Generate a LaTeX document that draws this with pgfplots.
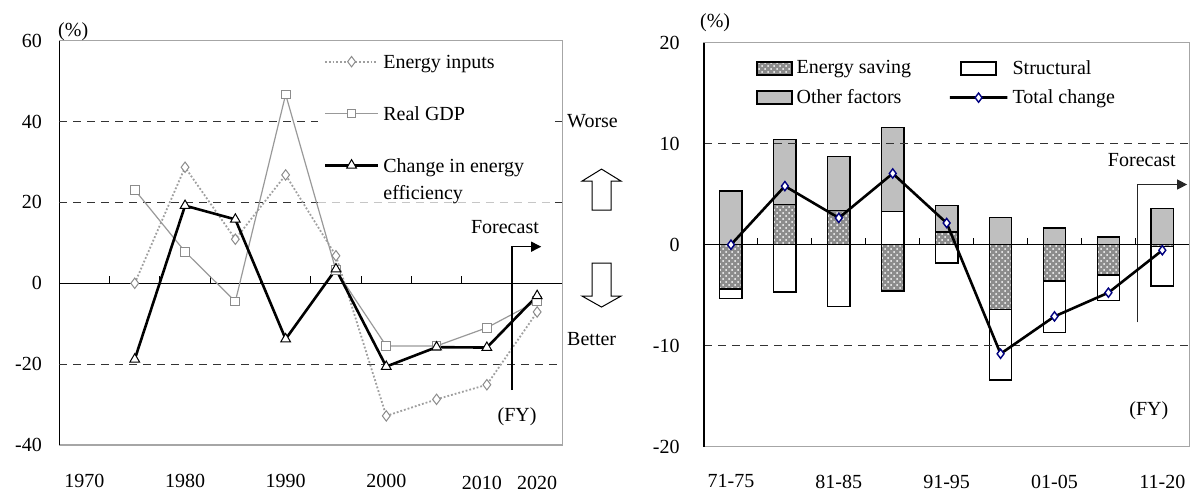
\documentclass[border=0pt]{standalone}
\usepackage{fontspec}
\setmainfont{Liberation Serif}
\usepackage{pgfplots}
\pgfplotsset{compat=1.18}
\usetikzlibrary{arrows.meta,patterns}
\definecolor{navy}{RGB}{0,0,128}
\newlength\legline
\pgfplotsset{
  myline legend/.style={legend image code/.code={\draw[mark repeat=2,mark phase=2,##1] plot coordinates {(0pt,0pt) (0.5\legline,0pt) (\legline,0pt)};}},
  swatch legend/.style={legend image code/.code={\draw[##1] (0pt,-3.25pt) rectangle (17.5pt,3.25pt);}},
}
\tikzset{
  esfill/.style={fill=gray!90, postaction={pattern=crosshatch dots, pattern color=white}, draw=black, line width=0.7pt},
  stfill/.style={fill=white, draw=black, line width=0.7pt},
  offill/.style={fill=gray!50, draw=black, line width=0.7pt},
  dgrid/.style={gray!40!black, line width=0.5pt, dash pattern=on 4pt off 3pt},
}
\begin{document}
\begin{tikzpicture}
\path[use as bounding box] (0pt,0pt) rectangle (597pt,246pt);
% ---------------- Left chart ----------------
\setlength\legline{26.5pt}
\begin{axis}[
  at={(29.65pt,23.5pt)}, anchor=south west,
  scale only axis, width=251.5pt, height=202.15pt,
  xmin=0, xmax=10, ymin=-40, ymax=60,
  xtick={0.5,2.5,4.5,6.5}, xticklabels={1970,1980,1990,2000},
  extra x ticks={8.4,9.5}, extra x tick labels={2010,2020},
  extra x tick style={xticklabel style={yshift=-1.2pt}},
  xtick style={draw=none},
  xticklabel style={yshift=-11pt},
  ytick={-40,-20,0,20,40,60},
  ytick pos=left, tick align=inside, major tick length=3.5pt,
  ytick style={black, line width=0.5pt},
  yticklabel style={xshift=-5.2pt},
  tick label style={font=\fontsize{10}{12}\selectfont},
  /pgf/number format/assume math mode=true,
  axis line style={gray!70, line width=0.6pt},
  clip=false,
  myline legend,
  legend cell align=left,
  legend style={at={(axis cs:5.25,58.35)}, anchor=north west, draw=none, fill=none,
    inner sep=0pt, row sep=12pt, font=\fontsize{10}{12}\selectfont},
]
\draw[black, line width=0.6pt] (axis cs:0,-40) -- (axis cs:0,60);
% grid lines (interrupted behind the legend area)
\draw[dgrid] (axis cs:0,40) -- (axis cs:5.14,40);
\draw[dgrid] (axis cs:9.85,40) -- (axis cs:10,40);
\draw[dgrid] (axis cs:0,20) -- (axis cs:5.14,20);
\draw[dgrid, gray!45] (axis cs:5.14,20) -- (axis cs:9.85,20);
\draw[dgrid] (axis cs:9.85,20) -- (axis cs:10,20);
\draw[dgrid] (axis cs:0,-20) -- (axis cs:10,-20);
\draw[black, line width=0.6pt] (axis cs:0,0) -- (axis cs:10,0);
\pgfplotsinvokeforeach{1,...,9}{\draw[black, line width=0.5pt] (axis cs:#1,0) -- ++(0pt,3.5pt);}
% Energy inputs
\addplot[color=gray!75, densely dotted, line width=0.9pt,
  mark=diamond*, mark size=2.6pt, mark options={solid, draw=gray!90, fill=white, line width=0.5pt}]
  coordinates {(1.5,0) (2.5,28.7) (3.5,10.9) (4.5,26.8) (5.5,6.8) (6.5,-32.8) (7.5,-28.7) (8.5,-25.1) (9.5,-7.1)};
\addlegendentry{Energy inputs\strut}
% Real GDP
\addplot[color=gray!80, line width=0.6pt,
  mark=square*, mark size=2.2pt, mark options={solid, draw=gray!90, fill=white, line width=0.5pt}]
  coordinates {(1.5,23.1) (2.5,7.8) (3.5,-4.5) (4.5,46.7) (5.5,3.2) (6.5,-15.5) (7.5,-15.5) (8.5,-11.0) (9.5,-4.4)};
\addlegendentry{Real GDP\strut}
% Change in energy efficiency
\addplot[color=black, line width=1.3pt,
  mark=triangle*, mark size=2.8pt, mark options={solid, draw=black, fill=white, line width=0.5pt}]
  coordinates {(1.5,-18.8) (2.5,19.2) (3.5,15.8) (4.5,-13.8) (5.5,3.5) (6.5,-20.6) (7.5,-15.8) (8.5,-15.9) (9.5,-3.1)};
\addlegendentry{\begin{tabular}[t]{@{}l@{}}Change in energy\\[1.5pt]efficiency\end{tabular}}
% annotations
\node[anchor=south west, font=\fontsize{10}{12}\selectfont, inner sep=0pt] at (axis cs:-0.03,60) {(\%)};
\node[font=\fontsize{10}{12}\selectfont] at (axis cs:8.86,14.0) {Forecast};
\draw[black, line width=0.6pt, -{Triangle[length=5pt,width=5pt]}] (axis cs:9,-26.4) -- (axis cs:9,9.05) -- (axis cs:9.58,9.05);
\node[font=\fontsize{10}{12}\selectfont] at (axis cs:9.1,-33.0) {(FY)};
\node[anchor=west, font=\fontsize{10}{12}\selectfont, inner sep=0pt] at (axis cs:10.09,40) {Worse};
\node[anchor=west, font=\fontsize{10}{12}\selectfont, inner sep=0pt] at (axis cs:10.09,-13.8) {Better};
\draw[black, line width=0.5pt, fill=white] (axis cs:10.78,18.1) ++(-4.75pt,0pt) -- ++(0pt,14.5pt) -- ++(-5pt,0pt) -- ++(9.75pt,6pt) -- ++(9.75pt,-6pt) -- ++(-5pt,0pt) -- ++(0pt,-14.5pt) -- cycle;
\draw[black, line width=0.5pt, fill=white] (axis cs:10.78,5.0) ++(-4.75pt,0pt) -- ++(0pt,-16.5pt) -- ++(-5pt,0pt) -- ++(9.75pt,-5.5pt) -- ++(9.75pt,5.5pt) -- ++(-5pt,0pt) -- ++(0pt,16.5pt) -- cycle;
\end{axis}
% ---------------- Right chart: bars ----------------
\setlength\legline{17.5pt}
\begin{axis}[
  at={(352pt,22.65pt)}, anchor=south west,
  scale only axis, width=242.65pt, height=202pt,
  xmin=0, xmax=9, ymin=-20, ymax=20,
  ybar stacked, bar width=11.2pt,
  swatch legend,
  xtick={0.5,2.5,4.5,6.5,8.5}, xticklabels={71-75,81-85,91-95,01-05,11-20},
  xtick style={draw=none},
  xticklabel style={yshift=-10.5pt},
  ytick={-20,-10,0,10,20},
  ytick pos=left, tick align=inside, major tick length=3.5pt,
  ytick style={black, line width=0.5pt},
  yticklabel style={xshift=-8.7pt},
  tick label style={font=\fontsize{10}{12}\selectfont},
  /pgf/number format/assume math mode=true,
  axis line style={gray!70, line width=0.6pt},
  clip=false,
  legend columns=2,
  legend cell align=left,
  legend style={at={(axis cs:0.96,18.7)}, anchor=north west, draw=none, fill=none,
    inner sep=0pt, row sep=2pt, font=\fontsize{10}{12}\selectfont},
]
\draw[black, line width=0.6pt] (axis cs:0,-20) -- (axis cs:0,20);
\draw[dgrid] (axis cs:0,10) -- (axis cs:9,10);
\draw[dgrid] (axis cs:0,-10) -- (axis cs:9,-10);
% negative values are stacked downward from zero, positive ones upward from zero
\addplot[esfill] coordinates {(0.5,-4.4) (1.5,0) (2.5,0) (3.5,-4.6) (4.5,0) (5.5,-6.4) (6.5,-3.6) (7.5,-3.0) (8.5,-0.2)};
\addlegendentry{\makebox[74pt][l]{Energy saving}}
\addplot[stfill] coordinates {(0.5,-0.9) (1.5,-4.7) (2.5,-6.1) (3.5,0) (4.5,-1.8) (5.5,-7.0) (6.5,-5.1) (7.5,-2.5) (8.5,-3.9)};
\addlegendentry{Structural}
\addplot[esfill, forget plot] coordinates {(0.5,0) (1.5,4.0) (2.5,3.4) (3.5,0) (4.5,1.25) (5.5,0) (6.5,0) (7.5,0) (8.5,0)};
\addplot[stfill, forget plot] coordinates {(0.5,0) (1.5,0) (2.5,0) (3.5,3.3) (4.5,0) (5.5,0) (6.5,0) (7.5,0) (8.5,0)};
\addplot[offill] coordinates {(0.5,5.3) (1.5,6.4) (2.5,5.35) (3.5,8.3) (4.5,2.65) (5.5,2.7) (6.5,1.65) (7.5,0.75) (8.5,3.6)};
\addlegendentry{\makebox[74pt][l]{Other factors}}
\addlegendimage{myline legend, black, line width=1.3pt, mark=diamond*, mark size=2.3pt, mark options={draw=navy, fill=white, line width=0.7pt}}
\addlegendentry{Total change}
\draw[black, line width=0.6pt] (axis cs:0,0) -- (axis cs:9,0);
\pgfplotsinvokeforeach{1,...,8}{\draw[black, line width=0.5pt] (axis cs:#1,0) -- ++(0pt,3.5pt);}
\node[anchor=west, font=\fontsize{10}{12}\selectfont, inner sep=0pt] at (axis cs:-0.08,21.95) {(\%)};
\node[font=\fontsize{10}{12}\selectfont] at (axis cs:8.12,8.37) {Forecast};
\draw[gray!30!black, line width=0.6pt, -{Triangle[length=5pt,width=5pt]}] (axis cs:8.04,-7.7) -- (axis cs:8.04,5.96) -- (axis cs:8.96,5.96);
\node[font=\fontsize{10}{12}\selectfont] at (axis cs:8.25,-16.45) {(FY)};
\end{axis}
% ---------------- Right chart: total change line ----------------
\begin{axis}[
  at={(352pt,22.65pt)}, anchor=south west,
  scale only axis, width=242.65pt, height=202pt,
  xmin=0, xmax=9, ymin=-20, ymax=20,
  axis lines=none, ticks=none, clip=false,
]
\addplot[black, line width=1.3pt, mark=diamond*, mark size=2.3pt, mark options={draw=navy, fill=white, line width=0.7pt}]
  coordinates {(0.5,0.0) (1.5,5.8) (2.5,2.65) (3.5,7.05) (4.5,2.15) (5.5,-10.8) (6.5,-7.1) (7.5,-4.75) (8.5,-0.55)};
\end{axis}
\end{tikzpicture}
\end{document}
